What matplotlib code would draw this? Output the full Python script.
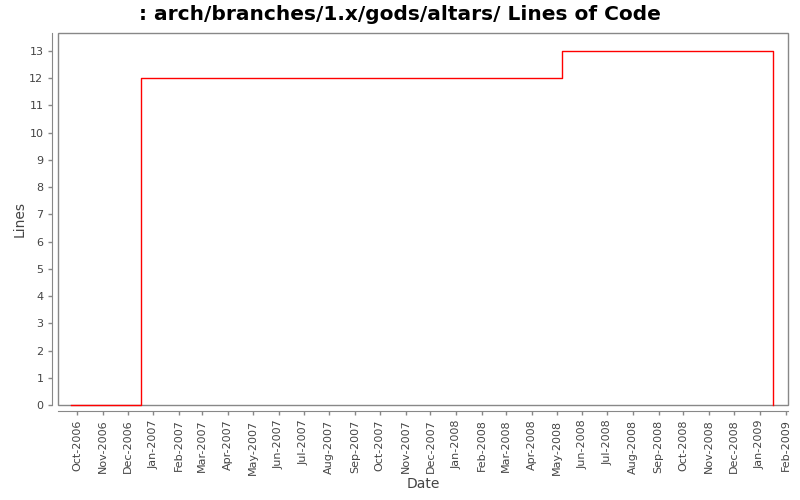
import matplotlib
matplotlib.use('Agg')
import matplotlib.pyplot as plt
import matplotlib.dates as mdates
from matplotlib.patches import Rectangle
from datetime import datetime

# Data: dates of changes and line counts
dates = ['2006-09-24', '2006-12-17', '2008-05-08', '2009-01-17']
lines = [0, 12, 13, 0]

# Month ticks along the x axis
tick_months = ['2006-10-01', '2006-11-01', '2006-12-01', '2007-01-01', '2007-02-01',
               '2007-03-01', '2007-04-01', '2007-05-01', '2007-06-01', '2007-07-01',
               '2007-08-01', '2007-09-01', '2007-10-01', '2007-11-01', '2007-12-01',
               '2008-01-01', '2008-02-01', '2008-03-01', '2008-04-01', '2008-05-01',
               '2008-06-01', '2008-07-01', '2008-08-01', '2008-09-01', '2008-10-01',
               '2008-11-01', '2008-12-01', '2009-01-01', '2009-02-01']

x = [datetime.strptime(d, '%Y-%m-%d') for d in dates]
ticks = [datetime.strptime(d, '%Y-%m-%d') for d in tick_months]

fig = plt.figure(figsize=(8, 5), dpi=100)
ax = fig.add_axes([0.0725, 0.19, 0.9125, 0.7434])

ax.step(x, lines, where='post', color='red', linewidth=1, clip_on=False, zorder=3)

ax.set_xlim(datetime(2006, 9, 8), datetime(2009, 2, 4))
ax.set_ylim(0, 13.65)
ax.set_yticks(range(0, 14))
ax.set_xticks(ticks)
ax.xaxis.set_major_formatter(mdates.DateFormatter('%b-%Y'))

# Axis lines drawn a little outside the plot frame
for side in ['left', 'bottom']:
    ax.spines[side].set_position(('outward', 4))
    ax.spines[side].set_color('#888888')
for side in ['right', 'top']:
    ax.spines[side].set_visible(False)
ax.add_patch(Rectangle((0, 0), 1, 1, transform=ax.transAxes, fill=False,
                       edgecolor='#888888', linewidth=1, clip_on=False, zorder=2))

ax.tick_params(axis='both', colors='#888888', labelcolor='#444444', labelsize=8,
               length=3, width=1)
ax.tick_params(axis='x', labelrotation=90)

ax.set_xlabel('Date', fontsize=10, color='#444444', labelpad=2)
ax.set_ylabel('Lines', fontsize=10, color='#444444', labelpad=2)
fig.text(0.5, 0.972, ': arch/branches/1.x/gods/altars/ Lines of Code', fontsize=14.5,
         fontweight='bold', ha='center', va='center')

fig.savefig('out.png', dpi=100)
